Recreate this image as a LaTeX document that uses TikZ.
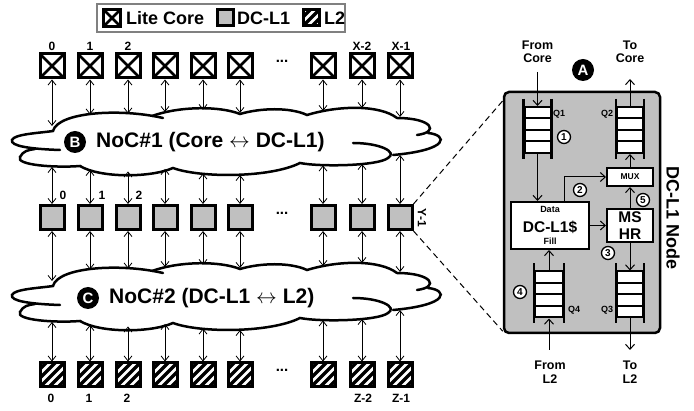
\documentclass[tikz,border=0pt]{standalone}
\usepackage{fontspec}
\setmainfont{Liberation Sans}
\usetikzlibrary{arrows.meta,calc}
\definecolor{boxgray}{RGB}{192,192,192}
\begin{document}
\begin{tikzpicture}[x=1pt,y=-1pt,
  every node/.style={font=\bfseries},
  corebox/.style={draw,line width=3pt,fill=white,minimum size=#1,inner sep=0pt,
     path picture={\draw[line width=2.6pt] (path picture bounding box.south west)--(path picture bounding box.north east) (path picture bounding box.north west)--(path picture bounding box.south east);}},
  corebox/.default=24pt,
  dcbox/.style={draw,line width=3pt,fill=boxgray,minimum size=#1,inner sep=0pt},
  dcbox/.default=24pt,
  ltwobox/.style={draw,line width=3pt,fill=white,minimum size=#1,inner sep=0pt,
     path picture={\foreach \k in {-4,...,4}{\draw[line width=3.4pt] ($(path picture bounding box.center)+(\k*9pt-20pt,-20pt)$) -- ++(40pt,40pt);}}},
  ltwobox/.default=24pt,
  biarr/.style={line width=0.8pt,{Straight Barb[length=5pt,width=8pt]}-{Straight Barb[length=5pt,width=8pt]}},
  parr/.style={line width=1pt,-{Straight Barb[length=5pt,width=9pt]}},
  cloudline/.style={line width=2.5pt,line cap=round},
  idx/.style={inner sep=0pt,font=\bfseries\fontsize{12}{12}\selectfont},
  letc/.style={circle,fill=black,text=white,minimum size=22pt,inner sep=0pt,font=\bfseries\fontsize{15}{15}\selectfont},
  numc/.style={circle,draw,line width=1.3pt,fill=white,minimum size=13pt,inner sep=0pt,font=\bfseries\fontsize{10}{10}\selectfont},
  panel/.style={draw,line width=2.5pt,fill=boxgray,rounded corners=5pt,minimum width=156pt,minimum height=241pt,inner sep=0pt},
  qcell/.style={draw,line width=2pt,fill=white,minimum width=#1,minimum height=46pt,inner sep=0pt,
     path picture={\foreach \k in {1,2,3}{\draw[line width=2pt] ($(path picture bounding box.north west)!\k/4!(path picture bounding box.south west)$) -- ++(40pt,0pt);}}},
  qcell/.default=26pt,
  wbox/.style={draw,line width=2pt,fill=white,inner sep=0pt},
  qlab/.style={inner sep=0pt,font=\bfseries\fontsize{9}{9}\selectfont},
  iolab/.style={inner sep=0pt,align=center,font=\bfseries\fontsize{12.5}{13.5}\selectfont},
  cloud/.pic={
    \draw[cloudline] (60,150) .. controls (30,149) and (10,146) .. (12,140) .. controls (14,134) and (40,133) .. (53,131)
      .. controls (58,112) and (120,108) .. (163,118);
    \draw[cloudline] (152,116) .. controls (180,106) and (220,106) .. (240,114) .. controls (260,108) and (290,107) .. (307,115)
      .. controls (340,105) and (380,105) .. (397,118) .. controls (432,118) and (440,132) .. (417,135);
    \draw[cloudline] (428,133) .. controls (448,135) and (450,150) .. (393,155);
    \draw[cloudline] (353,143) .. controls (380,143) and (398,152) .. (388,158) .. controls (378,166) and (320,167) .. (300,163)
      .. controls (270,178) and (200,178) .. (173,168) .. controls (150,178) and (100,178) .. (80,166)
      .. controls (55,168) and (15,165) .. (20,157) .. controls (23,151) and (28,150) .. (35,149);
  }
]
\useasboundingbox (0,0) rectangle (694,411);

% legend
\node[draw=gray,line width=1.5pt,minimum width=248pt,minimum height=28pt,inner sep=0pt] (legend) at (221,18) {};
\node[corebox=17pt] (lgcore) at (112,18) {};
\node[anchor=west,inner sep=0pt,font=\bfseries\fontsize{18}{18}\selectfont] (lgcoret) at (126,18) {Lite Core};
\node[dcbox=16pt] (lgdc) at (225,18) {};
\node[anchor=west,inner sep=0pt,font=\bfseries\fontsize{18}{18}\selectfont] (lgdct) at (237,18) {DC-L1};
\node[ltwobox=16pt] (lgl2) at (311,18) {};
\node[anchor=west,inner sep=0pt,font=\bfseries\fontsize{18}{18}\selectfont] (lgl2t) at (324,18) {L2};

% clouds
\pic at (0,0) {cloud};
\pic at (0,155) {cloud};
\node[letc] (circB) at (75,142) {B};
\node[anchor=west,inner sep=0pt,font=\bfseries\fontsize{21}{21}\selectfont] (noc1) at (96,142) {NoC\#1 (Core $\leftrightarrow$ DC-L1)};
\node[letc] (circC) at (88,298) {C};
\node[anchor=west,inner sep=0pt,font=\bfseries\fontsize{21}{21}\selectfont] (noc2) at (109,298) {NoC\#2 (DC-L1 $\leftrightarrow$ L2)};

% tiles
\foreach \x [count=\i] in {52,90,128,165,203,240,323,362,400} {
  \node[corebox] (c\i) at (\x,66) {};
  \node[dcbox] (d\i) at (\x,217.5) {};
  \node[ltwobox] (l\i) at (\x,375) {};
}
\foreach \x/\a/\b [count=\i] in {52/126/167, 90/114.5/170, 128/113.5/171.5, 165/112/169, 203/110/173.5, 240/113/175, 323/111/165.5, 362/108/164, 400/117/155} {
  \coordinate (ct\i) at (\x,\a);
  \coordinate (cb\i) at (\x,\b);
  \coordinate (dt\i) at (\x,{\a+155});
  \coordinate (db\i) at (\x,{\b+155});
}
\foreach \i in {1,...,9} {
  \draw[biarr] (c\i.south) -- (ct\i);
  \draw[biarr] (cb\i) -- (d\i.north);
  \draw[biarr] (d\i.south) -- (dt\i);
  \draw[biarr] (db\i) -- (l\i.north);
}
\node[inner sep=0pt,font=\bfseries\fontsize{15}{15}\selectfont] (dots1) at (282,61) {...};
\node[inner sep=0pt,font=\bfseries\fontsize{15}{15}\selectfont] (dots2) at (282,213) {...};
\node[inner sep=0pt,font=\bfseries\fontsize{15}{15}\selectfont] (dots3) at (282,370) {...};

% indices
\node[idx] (ic0) at (52,46) {0};
\node[idx] (ic1) at (90,46) {1};
\node[idx] (ic2) at (128,46) {2};
\node[idx] (icx2) at (362,46) {X-2};
\node[idx] (icx1) at (401,46) {X-1};
\node[idx] (id0) at (63,195) {0};
\node[idx] (id1) at (102,195) {1};
\node[idx] (id2) at (139,195) {2};
\node[idx,rotate=-90] (idy) at (422,218) {Y-1};
\node[idx] (il0) at (51,398) {0};
\node[idx] (il1) at (89,398) {1};
\node[idx] (il2) at (127,398) {2};
\node[idx] (ilz2) at (363,398) {Z-2};
\node[idx] (ilz1) at (401,398) {Z-1};

% panel
\node[panel] (panel) at (582,212.5) {};
\draw[line width=1pt,dash pattern=on 6pt off 4pt] (d9.north east) -- ([yshift=-10pt]panel.north west);
\draw[line width=1pt,dash pattern=on 6pt off 4pt] (d9.south east) -- ([yshift=3pt]panel.south west);
\node[rotate=-90,inner sep=0pt,font=\bfseries\fontsize{18}{18}\selectfont] (nodelab) at (673,218) {DC-L1 Node};

\node[qcell] (q1) at (537.5,130) {};
\node[qcell] (q2) at (630,130) {};
\node[qcell] (q3) at (630,294.5) {};
\node[qcell=28pt] (q4) at (549,294.5) {};
\foreach \q in {q1,q2,q3,q4} {
  \draw[line width=2.5pt] ([yshift=7pt]\q.north west) -- ([yshift=-5pt]\q.south west);
  \draw[line width=2.5pt] ([yshift=7pt]\q.north east) -- ([yshift=-5pt]\q.south east);
}
\node[qlab] (q1l) at (559,114) {Q1};
\node[qlab] (q2l) at (607,114) {Q2};
\node[qlab] (q3l) at (607,310) {Q3};
\node[qlab] (q4l) at (574,310) {Q4};

\node[wbox,minimum width=46pt,minimum height=18pt,font=\bfseries\fontsize{8.5}{8.5}\selectfont] (mux) at (630,177) {MUX};
\node[wbox,minimum width=46pt,minimum height=33pt,align=center,font=\bfseries\fontsize{15.5}{17}\selectfont] (mshr) at (630,225.5) {MS\\HR};
\node[wbox,minimum width=78pt,minimum height=47pt] (dc) at (550,225.5) {};
\node[inner sep=0pt,font=\bfseries\fontsize{9}{9}\selectfont] (dcdata) at (550,209) {Data};
\node[inner sep=0pt,font=\bfseries\fontsize{15.5}{15.5}\selectfont] (dctext) at (550,227) {DC-L1\$};
\node[inner sep=0pt,font=\bfseries\fontsize{9}{9}\selectfont] (dcfill) at (550,241) {Fill};

\node[iolab] (fromcore) at (537.5,52) {From\\Core};
\node[iolab] (tocore) at (630,52) {To\\Core};
\node[iolab] (froml2) at (550,372) {From\\L2};
\node[iolab] (tol2) at (630,372) {To\\L2};
\node[letc] (circA) at (583,70) {A};

\coordinate (fcs) at (537.5,72);
\coordinate (tcs) at (630,79);
\coordinate (fls) at (549,350);
\coordinate (tls) at (630,350);
\coordinate (c2x) at (564,0);

\draw[parr] (fcs) -- (q1.north);
\draw[parr] (q1.south) -- (dc.north -| q1.south);
\draw[parr] (q2.north) -- (tcs);
\draw[parr] (mux.north) -- (q2.south);
\draw[parr] (mshr.north) -- (mux.south);
\draw[parr] (dc.east |- mshr.west) -- (mshr.west);
\draw[parr] (dc.north -| c2x) |- (mux.west);
\draw[parr] (mshr.south) -- (q3.north);
\draw[parr] (q3.south) -- (tls);
\draw[parr] (fls) -- (q4.south);
\draw[parr] (q4.north) -- (dc.south -| q4.north);

\node[numc] (n1) at (564,137) {1};
\node[numc] (n2) at (580,190) {2};
\node[numc] (n3) at (608,253) {3};
\node[numc] (n4) at (520,292) {4};
\node[numc] (n5) at (643,200) {5};
\end{tikzpicture}
\end{document}
